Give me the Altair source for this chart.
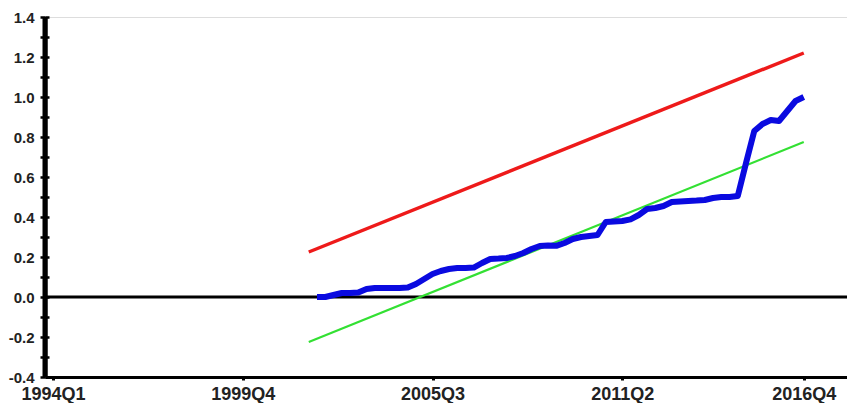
import altair as alt
import pandas as pd

# ---- data ----
blue_start = "2002Q1"
blue_values = [0.0, 0.0, 0.01, 0.02, 0.02, 0.022, 0.04, 0.045, 0.045, 0.045,
               0.045, 0.047, 0.065, 0.09, 0.115, 0.13, 0.14, 0.145, 0.145, 0.147,
               0.17, 0.19, 0.192, 0.195, 0.205, 0.22, 0.24, 0.255, 0.258, 0.256,
               0.27, 0.29, 0.30, 0.305, 0.31, 0.375, 0.378, 0.38, 0.388, 0.41,
               0.44, 0.445, 0.455, 0.475, 0.478, 0.48, 0.482, 0.485, 0.495, 0.50,
               0.50, 0.505, 0.67, 0.83, 0.865, 0.885, 0.88, 0.93, 0.98, 1.0]
bound_quarters = ["2001Q4", "2016Q4"]
upper_values = [0.225, 1.22]
lower_values = [-0.225, 0.775]
tick_labels = ["1994Q1", "1999Q4", "2005Q3", "2011Q2", "2016Q4"]
y_ticks = [-0.4, -0.3, -0.2, -0.1, 0.0, 0.1, 0.2, 0.3, 0.4, 0.5, 0.6, 0.7,
           0.8, 0.9, 1.0, 1.1, 1.2, 1.3, 1.4]
x_domain = [-0.97, 96.24]

W, H = 802, 360


def qidx(label):
    return (int(label[:4]) - 1994) * 4 + int(label[-1]) - 1


b0 = qidx(blue_start)
blue_df = pd.DataFrame({"t": [b0 + i for i in range(len(blue_values))],
                        "v": blue_values})
up_df = pd.DataFrame({"t": [qidx(q) for q in bound_quarters], "v": upper_values})
lo_df = pd.DataFrame({"t": [qidx(q) for q in bound_quarters], "v": lower_values})

tick_idx = [qidx(q) for q in tick_labels]
label_expr = " : ".join(
    [f"datum.value == {i} ? '{l}'" for i, l in zip(tick_idx, tick_labels)]
) + " : ''"

xscale = alt.Scale(domain=x_domain, nice=False, zero=False)
yscale = alt.Scale(domain=[-0.4, 1.4], nice=False, zero=False)

xaxis = alt.Axis(values=tick_idx, labelExpr=label_expr, title=None,
                 grid=False, domainWidth=3, domainColor="black",
                 tickSize=3, tickWidth=3, tickColor="black",
                 labelFont="Liberation Sans", labelFontWeight="bold",
                 labelFontSize=18, labelColor="#222222", labelPadding=5)
yaxis = alt.Axis(values=y_ticks, orient="left",
                 labelExpr="abs(round(datum.value*10)) % 2 == 0 ? "
                           "replace(format(datum.value, '.1f'), '\u2212', '-') : ''",
                 title=None, grid=False, domainWidth=4, domainColor="black",
                 tickSize=5, tickWidth=2.5, tickColor="black",
                 labelFont="Liberation Sans", labelFontWeight="bold",
                 labelFontSize=15, labelColor="#222222", labelPadding=6,
                 labelOverlap=False)
# inward half of the crossing ticks on the vertical axis
yaxis_in = alt.Axis(values=y_ticks, orient="right", offset=-W, labels=False,
                    title=None, grid=False, domain=False,
                    tickSize=4, tickWidth=2.5, tickColor="black")

zero = alt.Chart(pd.DataFrame({"z": [0.0]})).mark_rule(
    color="black", strokeWidth=3).encode(
    y=alt.Y("z:Q", scale=yscale, axis=yaxis))

# heavy vertical axis line at the left end of the time scale
vline = alt.Chart(pd.DataFrame({"t": [x_domain[0]]})).mark_rule(
    color="black", strokeWidth=5).encode(
    x=alt.X("t:Q", scale=xscale, axis=xaxis))

upper = alt.Chart(up_df).mark_line(color="#ee1a1a", strokeWidth=3.5).encode(
    x=alt.X("t:Q", scale=xscale, axis=xaxis),
    y=alt.Y("v:Q", scale=yscale, axis=yaxis))
lower = alt.Chart(lo_df).mark_line(color="#33e033", strokeWidth=2.2).encode(
    x=alt.X("t:Q", scale=xscale, axis=xaxis),
    y=alt.Y("v:Q", scale=yscale, axis=yaxis))
blue = alt.Chart(blue_df).mark_line(color="#0a0ae0", strokeWidth=6,
                                    strokeJoin="round", strokeCap="butt").encode(
    x=alt.X("t:Q", scale=xscale, axis=xaxis),
    y=alt.Y("v:Q", scale=yscale, axis=yaxis))

inner_ticks = alt.Chart(pd.DataFrame({"z": [0.0]})).mark_rule(
    opacity=0).encode(
    y=alt.Y("z:Q", scale=yscale, axis=yaxis_in))

main = alt.layer(zero, vline, upper, lower, blue)

chart = alt.layer(main, inner_ticks).resolve_scale(y="independent").properties(
    width=W, height=H,
    autosize=alt.AutoSizeParams(type="none"),
    padding={"left": 37, "top": 9, "right": 0, "bottom": 26},
).configure_view(stroke=None).configure(background="white")

chart.save("out.html", embed_options={"renderer": "svg", "actions": False})
